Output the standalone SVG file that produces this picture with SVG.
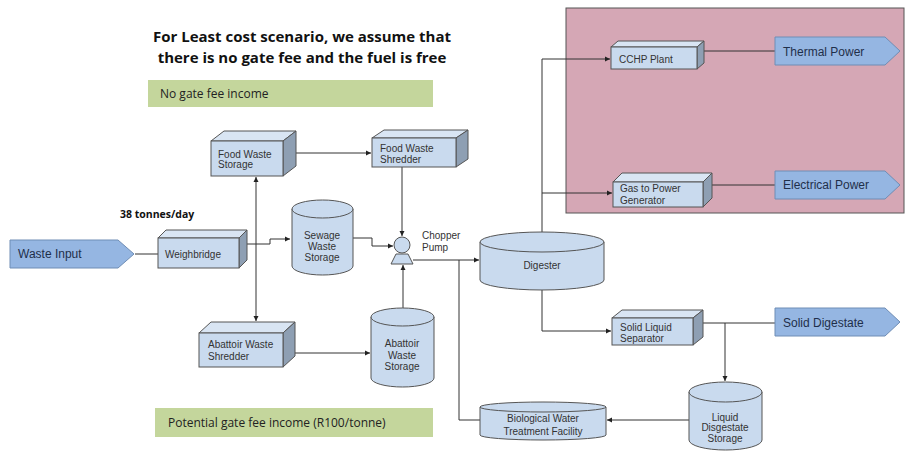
<svg xmlns="http://www.w3.org/2000/svg" width="907" height="454" viewBox="0 0 907 454">
<defs>
<marker id="ah" markerWidth="6" markerHeight="6" refX="5" refY="3" orient="auto" markerUnits="userSpaceOnUse">
<path d="M0,0.5 L5,3 L0,5.5 Z" fill="#222"/>
</marker>
<style>
.front{fill:#c9daee;stroke:#555;stroke-width:1}
.top{fill:#d9e5f3;stroke:#555;stroke-width:1}
.side{fill:#8e9fb3;stroke:#555;stroke-width:1}
.cyl{fill:#c9daee;stroke:#555;stroke-width:1}
.lbl{font-family:"Liberation Sans",Arial,sans-serif;font-size:10px;fill:#333}
.mid{text-anchor:middle}
.out{fill:#95b6e2;stroke:#6f8db5;stroke-width:1}
.outt{font-family:"Liberation Sans",Arial,sans-serif;font-size:12px;fill:#1f2f4a}
.conn{fill:none;stroke:#333;stroke-width:1}
.green{fill:#c4d69c}
.gt{font-family:"Open Sans","DejaVu Sans",sans-serif;font-size:12px;fill:#222}
.title{font-family:"Open Sans","DejaVu Sans",sans-serif;font-size:15px;font-weight:bold;fill:#111;text-anchor:middle}
</style>
</defs>
<rect x="0" y="0" width="907" height="454" fill="#fff"/>

<g id="pink-region"><rect x="566" y="8" width="338" height="205" fill="#d5a7b5" stroke="#555" stroke-width="1"/></g>

<g id="title">
<text class="title" x="302" y="42">For Least cost scenario, we assume that</text>
<text class="title" x="302" y="63">there is no gate fee and the fuel is free</text>
</g>
<g id="no-gate-fee"><rect class="green" x="148" y="80" width="285" height="27"/><text class="gt" x="160" y="98">No gate fee income</text></g>
<g id="potential-gate-fee"><rect class="green" x="155" y="408" width="278" height="29"/><text class="gt" x="168" y="427">Potential gate fee income (R100/tonne)</text></g>
<g id="tonnes-label"><text x="120" y="218" font-family="'Open Sans','DejaVu Sans',sans-serif" font-size="10.5" font-weight="bold" fill="#111">38 tonnes/day</text></g>

<g id="connectors">
<path class="conn" d="M135,254 L158,254"/>
<path class="conn" d="M247,244 L270,244 L270,239 L290,239" marker-end="url(#ah)"/>
<path class="conn" d="M256,244 L256,177" marker-end="url(#ah)"/>
<path class="conn" d="M256,244 L256,321" marker-end="url(#ah)"/>
<path class="conn" d="M296,153 L371,153" marker-end="url(#ah)"/>
<path class="conn" d="M402,167 L402,236" marker-end="url(#ah)"/>
<path class="conn" d="M353,238 L372,238 L372,246 L393,246" marker-end="url(#ah)"/>
<path class="conn" d="M295,353 L370,353" marker-end="url(#ah)"/>
<path class="conn" d="M403,308 L403,265" marker-end="url(#ah)"/>
<path class="conn" d="M413,260 L479,260" marker-end="url(#ah)"/>
<path class="conn" d="M459,260 L459,420 L480,420"/>
<path class="conn" d="M542,232 L542,59 L610,59" marker-end="url(#ah)"/>
<path class="conn" d="M542,193 L612,193" marker-end="url(#ah)"/>
<path class="conn" d="M704,51 L775,51"/>
<path class="conn" d="M712,185 L775,185"/>
<path class="conn" d="M542,290 L542,331 L611,331" marker-end="url(#ah)"/>
<path class="conn" d="M703,323 L775,323"/>
<path class="conn" d="M725,323 L725,381" marker-end="url(#ah)"/>
<path class="conn" d="M689,420 L607,420" marker-end="url(#ah)"/>
</g>

<g id="waste-input"><path class="out" d="M10,240 L118,240 L134,254 L118,268 L10,268 Z" fill="#8db4e2"/><text class="outt" x="18" y="258" font-size="13">Waste Input</text></g>

<g id="weighbridge">
<polygon class="top" points="158,238 166,230 247,230 239,238"/>
<polygon class="side" points="239,238 247,230 247,260 239,268"/>
<rect class="front" x="158" y="238" width="81" height="30"/>
<text class="lbl" x="165" y="258">Weighbridge</text>
</g>

<g id="food-waste-storage">
<polygon class="top" points="211,141 224,131 296,131 283,141"/>
<polygon class="side" points="283,141 296,131 296,166 283,176"/>
<rect class="front" x="211" y="141" width="72" height="35"/>
<text class="lbl" x="218" y="158">Food Waste</text>
<text class="lbl" x="218" y="168">Storage</text>
</g>

<g id="food-waste-shredder">
<polygon class="top" points="372,138 384,130 468,130 456,138"/>
<polygon class="side" points="456,138 468,130 468,159 456,167"/>
<rect class="front" x="372" y="138" width="84" height="29"/>
<text class="lbl" x="380" y="152">Food Waste</text>
<text class="lbl" x="380" y="163">Shredder</text>
</g>

<g id="sewage-waste-storage">
<path class="cyl" d="M292,209 L292,266 A30.5,9 0 0 0 353,266 L353,209 Z"/>
<ellipse class="cyl" cx="322.5" cy="209" rx="30.5" ry="9"/>
<text class="lbl mid" x="322" y="239">Sewage</text>
<text class="lbl mid" x="322" y="250">Waste</text>
<text class="lbl mid" x="322" y="261">Storage</text>
</g>

<g id="chopper-pump">
<polygon class="cyl" points="396,254 408,254 413,264 391,264"/>
<circle class="cyl" cx="402" cy="245" r="8"/>
<text class="lbl" x="422" y="239">Chopper</text>
<text class="lbl" x="422" y="251">Pump</text>
</g>

<g id="abattoir-waste-shredder">
<polygon class="top" points="199,333 211,322 295,322 283,333"/>
<polygon class="side" points="283,333 295,322 295,356 283,367"/>
<rect class="front" x="199" y="333" width="84" height="34"/>
<text class="lbl" x="208" y="348">Abattoir Waste</text>
<text class="lbl" x="208" y="360">Shredder</text>
</g>

<g id="abattoir-waste-storage">
<path class="cyl" d="M371,317 L371,378 A31.5,9 0 0 0 434,378 L434,317 Z"/>
<ellipse class="cyl" cx="402.5" cy="317" rx="31.5" ry="9"/>
<text class="lbl mid" x="402" y="347">Abattoir</text>
<text class="lbl mid" x="402" y="359">Waste</text>
<text class="lbl mid" x="402" y="370">Storage</text>
</g>

<g id="digester">
<path class="cyl" d="M480,242 L480,280 A62,10 0 0 0 604,280 L604,242 Z"/>
<ellipse class="cyl" cx="542" cy="242" rx="62" ry="10"/>
<text class="lbl mid" x="542" y="269" font-size="11">Digester</text>
</g>

<g id="cchp-plant">
<polygon class="top" points="611,47 618,41 704,41 697,47"/>
<polygon class="side" points="697,47 704,41 704,63 697,69"/>
<rect class="front" x="611" y="47" width="86" height="22"/>
<text class="lbl" x="619" y="63">CCHP Plant</text>
</g>

<g id="gas-to-power-generator">
<polygon class="top" points="613,182 622,173 712,173 703,182"/>
<polygon class="side" points="703,182 712,173 712,198 703,207"/>
<rect class="front" x="613" y="182" width="90" height="25"/>
<text class="lbl" x="620" y="192">Gas to Power</text>
<text class="lbl" x="620" y="204">Generator</text>
</g>

<g id="thermal-power"><path class="out" d="M775,37 L885,37 L900,51 L885,65 L775,65 Z"/><text class="outt" x="783" y="56">Thermal Power</text></g>
<g id="electrical-power"><path class="out" d="M775,171 L885,171 L900,185 L885,199 L775,199 Z"/><text class="outt" x="783" y="189">Electrical Power</text></g>

<g id="solid-liquid-separator">
<polygon class="top" points="612,318 622,310 703,310 693,318"/>
<polygon class="side" points="693,318 703,310 703,337 693,345"/>
<rect class="front" x="612" y="318" width="81" height="27"/>
<text class="lbl" x="620" y="331">Solid Liquid</text>
<text class="lbl" x="620" y="342">Separator</text>
</g>

<g id="solid-digestate"><path class="out" d="M775,308 L885,308 L900,322 L885,336 L775,336 Z"/><text class="outt" x="783" y="327">Solid Digestate</text></g>

<g id="liquid-disgestate-storage">
<path class="cyl" d="M689,392 L689,440 A36.5,10 0 0 0 762,440 L762,392 Z"/>
<ellipse class="cyl" cx="725.5" cy="392" rx="36.5" ry="10"/>
<text class="lbl mid" x="725" y="421">Liquid</text>
<text class="lbl mid" x="725" y="431">Disgestate</text>
<text class="lbl mid" x="725" y="442">Storage</text>
</g>

<g id="biological-water-treatment">
<path class="cyl" d="M480,407 L480,435 A63,5 0 0 0 606,435 L606,407 Z"/>
<ellipse class="cyl" cx="543" cy="407" rx="63" ry="5"/>
<text class="lbl mid" x="543" y="422">Biological Water</text>
<text class="lbl mid" x="543" y="435">Treatment Facility</text>
</g>
</svg>
